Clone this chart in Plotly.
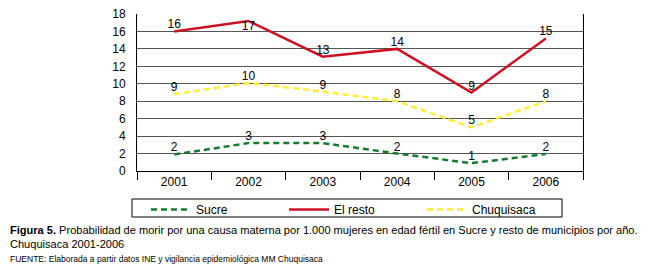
import plotly.graph_objects as go

years = ["2001", "2002", "2003", "2004", "2005", "2006"]
sucre = [1.9, 3.2, 3.2, 2.0, 0.9, 1.95]
sucre_lbl = ["2", "3", "3", "2", "1", "2"]
resto = [16.0, 17.2, 13.1, 14.0, 9.0, 15.2]
resto_lbl = ["16", "17", "13", "14", "9", "15"]
chuq = [8.8, 10.1, 9.1, 8.0, 5.0, 8.0]
chuq_lbl = ["9", "10", "9", "8", "5", "8"]

W, H = 650, 265
O = 8  # page body margin offset
# plot area in page coordinates: x 137..583, y 14..171
L, T = 137 - O, 14 - O
R, B = W - (583 - O), H - (171 - O)
pw, ph = W - L - R, H - T - B

def px(x):
    return (x - O - L) / pw

def py(y):
    return (H - B - (y - O)) / ph

FONT = "Liberation Sans, Arial, sans-serif"

fig = go.Figure()
fig.add_trace(go.Scatter(
    x=years, y=sucre, name="Sucre", mode="lines+text", text=sucre_lbl,
    textposition="top center", textfont=dict(size=12, color="black"),
    line=dict(color="#157a2c", width=2.5, dash="6px,4px")))
fig.add_trace(go.Scatter(
    x=years, y=resto, name="El resto", mode="lines+text", text=resto_lbl,
    textposition=["top center", "bottom center", "top center", "top center", "top center", "top center"],
    textfont=dict(size=12, color="black"),
    line=dict(color="#cc1122", width=2.5)))
fig.add_trace(go.Scatter(
    x=years, y=chuq, name="Chuquisaca", mode="lines+text", text=chuq_lbl,
    textposition="top center", textfont=dict(size=12, color="black"),
    line=dict(color="#ffee33", width=2.5, dash="6px,4px")))

fig.update_layout(
    width=W, height=H, margin=dict(l=L, r=R, t=T, b=B, autoexpand=False),
    paper_bgcolor="white", plot_bgcolor="white",
    font=dict(family=FONT, size=12, color="black"),
    showlegend=True,
    legend=dict(orientation="h", x=px(146), y=py(195), xanchor="left", yanchor="top",
                font=dict(size=12), entrywidth=83, entrywidthmode="pixels",
                bgcolor="rgba(0,0,0,0)", borderwidth=0,
                itemwidth=40, tracegroupgap=0),
    xaxis=dict(type="category", range=[-0.5, 5.5], showgrid=False, showline=True,
               linecolor="black", linewidth=1, ticks="outside", tickson="boundaries",
               ticklen=8, tickcolor="black", tickfont=dict(size=12), mirror=False),
    yaxis=dict(range=[0, 18], dtick=2, showgrid=True, gridcolor="#555555", gridwidth=1,
               showline=True, linecolor="black", linewidth=1, mirror=True,
               ticks="", tickfont=dict(size=12), zeroline=False, ticklabelstandoff=8,
               ticklabeloverflow="allow"),
    shapes=[
        dict(type="rect", xref="paper", yref="paper", x0=px(132), x1=px(562),
             y0=py(199), y1=py(217), line=dict(color="black", width=1)),
        dict(type="line", xref="paper", yref="paper", x0=px(647), x1=px(647),
             y0=py(8), y1=py(217), line=dict(color="#dddddd", width=1)),
    ],
    annotations=[
        dict(xref="paper", yref="paper", x=px(8), y=py(222), xanchor="left", yanchor="top",
             align="left", showarrow=False, font=dict(size=11.05, family=FONT),
             text="<b>Figura 5.</b> Probabilidad de morir por una causa materna por 1.000 mujeres en edad fértil en Sucre y resto de municipios por año.<br>Chuquisaca 2001-2006"),
        dict(xref="paper", yref="paper", x=px(8), y=py(252), xanchor="left", yanchor="top",
             align="left", showarrow=False, font=dict(size=8.5, family=FONT),
             text="FUENTE: Elaborada a partir datos INE y vigilancia epidemiológica MM Chuquisaca"),
    ],
)

fig.write_html("out.html")
